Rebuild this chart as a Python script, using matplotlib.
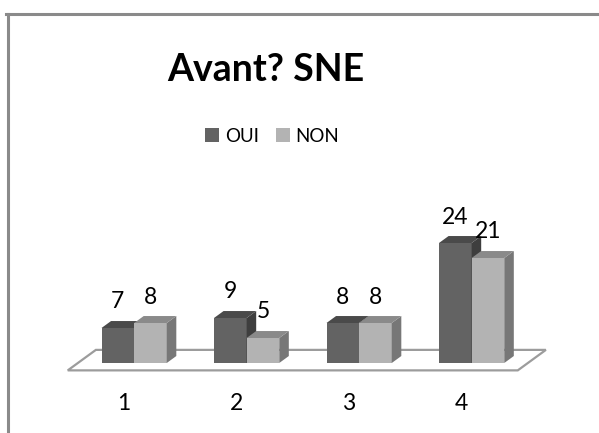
import matplotlib
matplotlib.use("Agg")
import matplotlib.pyplot as plt
from matplotlib.patches import Polygon, Patch
from matplotlib.lines import Line2D

# ---- data ----
categories = ["1", "2", "3", "4"]
series_names = ["OUI", "NON"]
oui = [7, 9, 8, 24]
non = [8, 5, 8, 21]

# ---- styling ----
front_cols = ["#636363", "#b3b3b3"]
top_cols = ["#4a4a4a", "#8a8a8a"]
side_cols = ["#3e3e3e", "#777777"]
frame_col = "#8a8a8a"
floor_edge = "#9c9c9c"
FONT = "Lato"

W, H, DPI = 599, 433, 100
fig = plt.figure(figsize=(W / DPI, H / DPI), dpi=DPI)
fig.patch.set_facecolor("white")

# one axes over the whole canvas; x in category slots, y in value units
ax = fig.add_axes([0, 0, 1, 1])
px_per_x, px_per_y = 112.5, 5.0
x0_px, y0_px = 124.0, 363.0
ax.set_xlim(-x0_px / px_per_x, (W - x0_px) / px_per_x)
ax.set_ylim((y0_px - H) / px_per_y, y0_px / px_per_y)
ax.axis("off")

# oblique depth: shift per unit of depth
DX, DY = 0.25, 4.1
z_floor_front, z_floor_back = -0.36, 0.64
bar_depth = 0.34
bar_w = 0.29
n = len(categories)

# floor, its front edge spanning the category slots
floor = [(-0.5, z_floor_front * DY), (n - 0.5, z_floor_front * DY),
         (n - 0.5 + (z_floor_back - z_floor_front) * DX, z_floor_back * DY),
         (-0.5 + (z_floor_back - z_floor_front) * DX, z_floor_back * DY)]
ax.add_patch(Polygon(floor, closed=True, facecolor="white",
                     edgecolor=floor_edge, linewidth=1.6, zorder=1))

# bars
xs = list(range(n))
shift = -z_floor_front * DX   # bar fronts sit inside the floor depth
values = [oui, non]
zo = 2
for i in xs:
    for s, vals in enumerate(values):
        left = i + shift - bar_w + s * bar_w
        h = vals[i]
        ax.bar(left, h, width=bar_w, align="edge", color=front_cols[s],
               edgecolor="none", zorder=zo,
               label=series_names[s] if i == 0 else None)
        top = [(left, h), (left + bar_w, h),
               (left + bar_w + bar_depth * DX, h + bar_depth * DY),
               (left + bar_depth * DX, h + bar_depth * DY)]
        side = [(left + bar_w, 0), (left + bar_w + bar_depth * DX, bar_depth * DY),
                (left + bar_w + bar_depth * DX, h + bar_depth * DY),
                (left + bar_w, h)]
        ax.add_patch(Polygon(side, closed=True, facecolor=side_cols[s],
                             edgecolor="none", zorder=zo))
        ax.add_patch(Polygon(top, closed=True, facecolor=top_cols[s],
                             edgecolor="none", zorder=zo))
        ax.text(left + bar_w / 2, h + 5.2, str(h), ha="center", va="center",
                fontsize=16.5, family=FONT, color="black", zorder=10)
        zo += 1

# category labels below the floor
for i, c in enumerate(categories):
    ax.text(i, -8, c, ha="center", va="center", fontsize=16.5,
            family=FONT, color="black")

# title
fig.text(266 / W, 1 - 70 / H, "Avant? SNE", ha="center", va="center",
         fontsize=27, fontweight="bold", family=FONT)

# legend
handles = [Patch(facecolor=front_cols[k], edgecolor="none") for k in range(2)]
fig.legend(handles, series_names, loc="center", bbox_to_anchor=(272 / W, 1 - 136 / H),
           ncol=2, frameon=False, handlelength=0.75, handleheight=0.75,
           handletextpad=0.3, columnspacing=0.9,
           prop={"family": FONT, "size": 13.5})

# chart frame (left and top edges)
fig.add_artist(Line2D([7.5 / W, 7.5 / W], [0, 1 - 13.5 / H], color=frame_col,
                      linewidth=2.2, transform=fig.transFigure))
fig.add_artist(Line2D([6.4 / W, 1], [1 - 13.5 / H, 1 - 13.5 / H], color=frame_col,
                      linewidth=2.2, transform=fig.transFigure))

fig.savefig("out.png", dpi=DPI, facecolor="white")
